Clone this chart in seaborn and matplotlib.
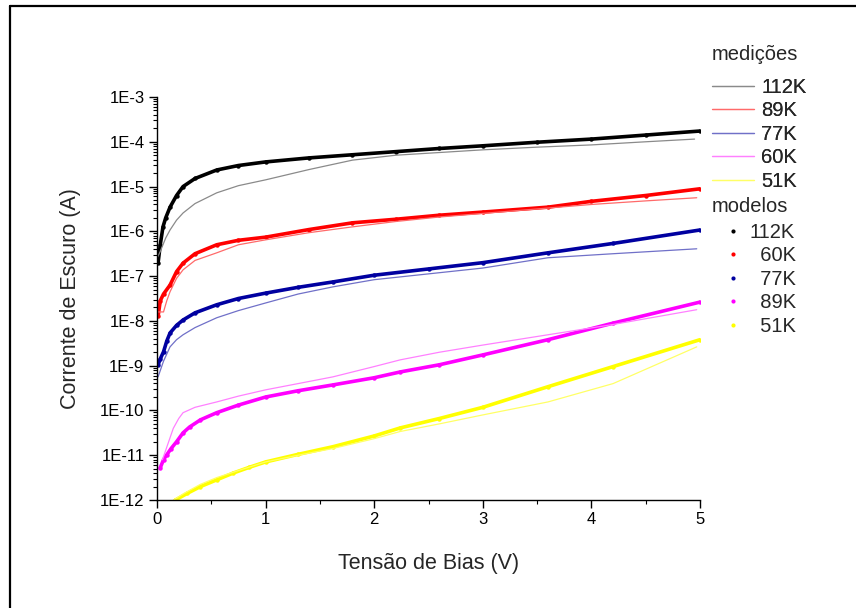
import numpy as np
import pandas as pd
import matplotlib
matplotlib.use("Agg")
import matplotlib.pyplot as plt
import matplotlib.ticker as mticker
from matplotlib.lines import Line2D
import seaborn as sns

# ---------------- data (log10 of current in A) ----------------
# measured curves (medições)
v_m112 = [0.0, 0.03, 0.08, 0.12, 0.18, 0.24, 0.35, 0.55, 0.75, 1.0, 1.4, 1.8, 2.2, 2.6, 3.0, 3.5, 4.0, 4.5, 4.95]
e_m112 = [-6.6, -6.45, -6.15, -5.97, -5.75, -5.59, -5.38, -5.14, -4.98, -4.85, -4.62, -4.41, -4.3, -4.24, -4.18, -4.12, -4.07, -4.0, -3.94]

v_m89 = [0.0, 0.06, 0.09, 0.12, 0.18, 0.24, 0.35, 0.55, 0.75, 1.0, 1.4, 1.8, 2.2, 2.6, 3.0, 3.6, 4.0, 4.5, 4.97]
e_m89 = [-7.8, -7.8, -7.55, -7.35, -7.05, -6.86, -6.65, -6.48, -6.3, -6.19, -6.03, -5.9, -5.78, -5.68, -5.6, -5.48, -5.4, -5.32, -5.25]

v_m77 = [0.01, 0.06, 0.12, 0.18, 0.24, 0.35, 0.55, 0.75, 1.0, 1.3, 1.62, 2.0, 2.5, 3.0, 3.6, 4.2, 4.97]
e_m77 = [-9.25, -8.9, -8.58, -8.42, -8.31, -8.15, -7.93, -7.77, -7.6, -7.4, -7.24, -7.08, -6.95, -6.82, -6.59, -6.5, -6.39]

v_m60 = [0.05, 0.1, 0.15, 0.2, 0.24, 0.35, 0.55, 0.75, 1.0, 1.3, 1.62, 2.0, 2.24, 2.6, 3.0, 3.6, 4.2, 4.97]
e_m60 = [-11.1, -10.75, -10.4, -10.18, -10.05, -9.93, -9.81, -9.68, -9.54, -9.4, -9.25, -9.02, -8.87, -8.7, -8.54, -8.31, -8.08, -7.75]

v_m51 = [0.12, 0.25, 0.4, 0.55, 0.7, 1.0, 1.3, 1.62, 2.0, 2.24, 2.6, 3.0, 3.6, 4.2, 4.97]
e_m51 = [-12.05, -11.85, -11.65, -11.5, -11.38, -11.15, -11.0, -10.85, -10.63, -10.47, -10.3, -10.1, -9.81, -9.4, -8.58]

# model curves (modelos)
v_d112 = [0.01, 0.03, 0.055, 0.08, 0.12, 0.18, 0.24, 0.35, 0.55, 0.75, 1.0, 1.4, 1.8, 2.2, 2.6, 3.0, 3.5, 4.0, 4.5, 5.0]
e_d112 = [-6.7, -6.3, -5.9, -5.7, -5.46, -5.2, -5.0, -4.82, -4.63, -4.53, -4.45, -4.36, -4.29, -4.22, -4.15, -4.09, -4.01, -3.94, -3.85, -3.76]

v_d60 = [0.01, 0.03, 0.06, 0.12, 0.18, 0.24, 0.35, 0.55, 0.75, 1.0, 1.4, 1.8, 2.2, 2.6, 3.0, 3.6, 4.0, 4.5, 5.0]
e_d60 = [-7.9, -7.55, -7.4, -7.2, -6.9, -6.71, -6.5, -6.3, -6.2, -6.13, -5.96, -5.81, -5.73, -5.64, -5.57, -5.46, -5.33, -5.2, -5.05]

v_d77 = [0.01, 0.03, 0.06, 0.09, 0.12, 0.18, 0.24, 0.35, 0.55, 0.75, 1.0, 1.3, 1.62, 2.0, 2.5, 3.0, 3.6, 4.2, 5.0]
e_d77 = [-8.98, -8.85, -8.69, -8.45, -8.27, -8.1, -7.98, -7.82, -7.64, -7.5, -7.38, -7.25, -7.13, -6.98, -6.84, -6.7, -6.48, -6.27, -5.97]

v_d89 = [0.03, 0.06, 0.09, 0.13, 0.18, 0.24, 0.3, 0.4, 0.55, 0.75, 1.0, 1.3, 1.62, 2.0, 2.24, 2.6, 3.0, 3.6, 4.2, 5.0]
e_d89 = [-11.28, -11.1, -10.99, -10.85, -10.7, -10.5, -10.37, -10.21, -10.05, -9.88, -9.7, -9.56, -9.43, -9.27, -9.14, -8.98, -8.76, -8.42, -8.05, -7.58]

v_d51 = [0.17, 0.28, 0.4, 0.55, 0.7, 0.85, 1.0, 1.3, 1.62, 2.0, 2.24, 2.6, 3.0, 3.6, 4.2, 5.0]
e_d51 = [-12.0, -11.85, -11.7, -11.55, -11.4, -11.27, -11.15, -10.98, -10.81, -10.57, -10.39, -10.18, -9.93, -9.47, -9.02, -8.42]

meas_labels = ["112K", "89K", "77K", "60K", "51K"]
model_labels = ["112K", "60K", "77K", "89K", "51K"]

meas_series = [(v_m112, e_m112), (v_m89, e_m89), (v_m77, e_m77), (v_m60, e_m60), (v_m51, e_m51)]
model_series = [(v_d112, e_d112), (v_d60, e_d60), (v_d77, e_d77), (v_d89, e_d89), (v_d51, e_d51)]

meas_colors = ["#8a8a8a", "#ff6a6a", "#7070c8", "#ff80ff", "#ffff66"]
model_colors = ["#000000", "#ff0000", "#0000a0", "#ff00ff", "#ffff00"]

# ---------------- plot ----------------
sns.set_theme(style="ticks")
plt.rcParams["font.family"] = ["Liberation Sans", "DejaVu Sans"]

W, H = 856, 608
fig = plt.figure(figsize=(W / 100, H / 100), dpi=100)
ax = fig.add_axes([157 / W, 1 - 500 / H, 543 / W, 403 / H])

for (v, e), lab, c in zip(model_series, model_labels, model_colors):
    df = pd.DataFrame({"V": v, "I": np.power(10.0, e)})
    sns.lineplot(data=df, x="V", y="I", ax=ax, color=c, lw=2.6, marker="o",
                 markersize=3.2, markeredgewidth=0, sort=False, legend=False)

for (v, e), lab, c in zip(meas_series, meas_labels, meas_colors):
    df = pd.DataFrame({"V": v, "I": np.power(10.0, e)})
    sns.lineplot(data=df, x="V", y="I", ax=ax, color=c, lw=0.9, sort=False, legend=False)

ax.set_yscale("log")
ax.set_xlim(0, 5)
ax.set_ylim(1e-12, 1e-3)
ax.xaxis.set_major_locator(mticker.MultipleLocator(1))
ax.xaxis.set_minor_locator(mticker.MultipleLocator(0.5))
ax.xaxis.set_major_formatter(mticker.FuncFormatter(lambda x, p: f"{x:g}"))
ax.yaxis.set_major_locator(mticker.LogLocator(base=10, numticks=20))
ax.yaxis.set_minor_locator(mticker.LogLocator(base=10, subs=np.arange(2, 10), numticks=20))
ax.yaxis.set_minor_formatter(mticker.NullFormatter())
ax.yaxis.set_major_formatter(mticker.FuncFormatter(lambda y, p: f"1E{int(round(np.log10(y)))}"))

for s in ["top", "right"]:
    ax.spines[s].set_visible(False)
for s in ["left", "bottom"]:
    ax.spines[s].set_linewidth(1.0)
    ax.spines[s].set_color("black")
ax.tick_params(which="major", direction="out", length=6, width=1.0, labelsize=12, colors="black", pad=3)
ax.tick_params(which="minor", direction="out", length=3, width=0.8, colors="black")
ax.set_xlabel("Tensão de Bias (V)", fontsize=15.5, labelpad=18)
ax.set_ylabel("Corrente de Escuro (A)", fontsize=15.5, labelpad=14)
ax.set_facecolor("white")

# legends
FS = 14.5
fig.text(712 / W, 1 - 55 / H, "medições", fontsize=FS, ha="left", va="center")
fig.text(712 / W, 1 - 207 / H, "modelos", fontsize=FS, ha="left", va="center")

h_meas = [Line2D([], [], color=c, lw=0.9) for c in meas_colors]
h_model = [Line2D([], [], color=c, lw=0, marker="o", markersize=3, markeredgewidth=0) for c in model_colors]

leg1 = fig.legend(h_meas, meas_labels, loc="upper left",
                  bbox_to_anchor=(712 / W, 1 - 78 / H), frameon=False,
                  fontsize=FS, handlelength=2.1, handletextpad=0.35, labelspacing=0.22,
                  borderpad=0.0, borderaxespad=0.0)
fig.add_artist(leg1)
model_disp = ["112K", "  60K", "  77K", "  89K", "  51K"]
leg2 = fig.legend(h_model, model_disp, loc="upper left",
                  bbox_to_anchor=(712 / W, 1 - 223 / H), frameon=False,
                  fontsize=FS, handlelength=2.1, handletextpad=-0.25, labelspacing=0.22,
                  borderpad=0.0, borderaxespad=0.0)

# figure border (left and top)
fig.add_artist(Line2D([9.5 / W, 9.5 / W], [0, 1 - 5.5 / H], color="black", lw=1.6, transform=fig.transFigure))
fig.add_artist(Line2D([9.5 / W, 1], [1 - 5.5 / H, 1 - 5.5 / H], color="black", lw=1.6, transform=fig.transFigure))

fig.savefig("out.png", dpi=100, facecolor="white")
